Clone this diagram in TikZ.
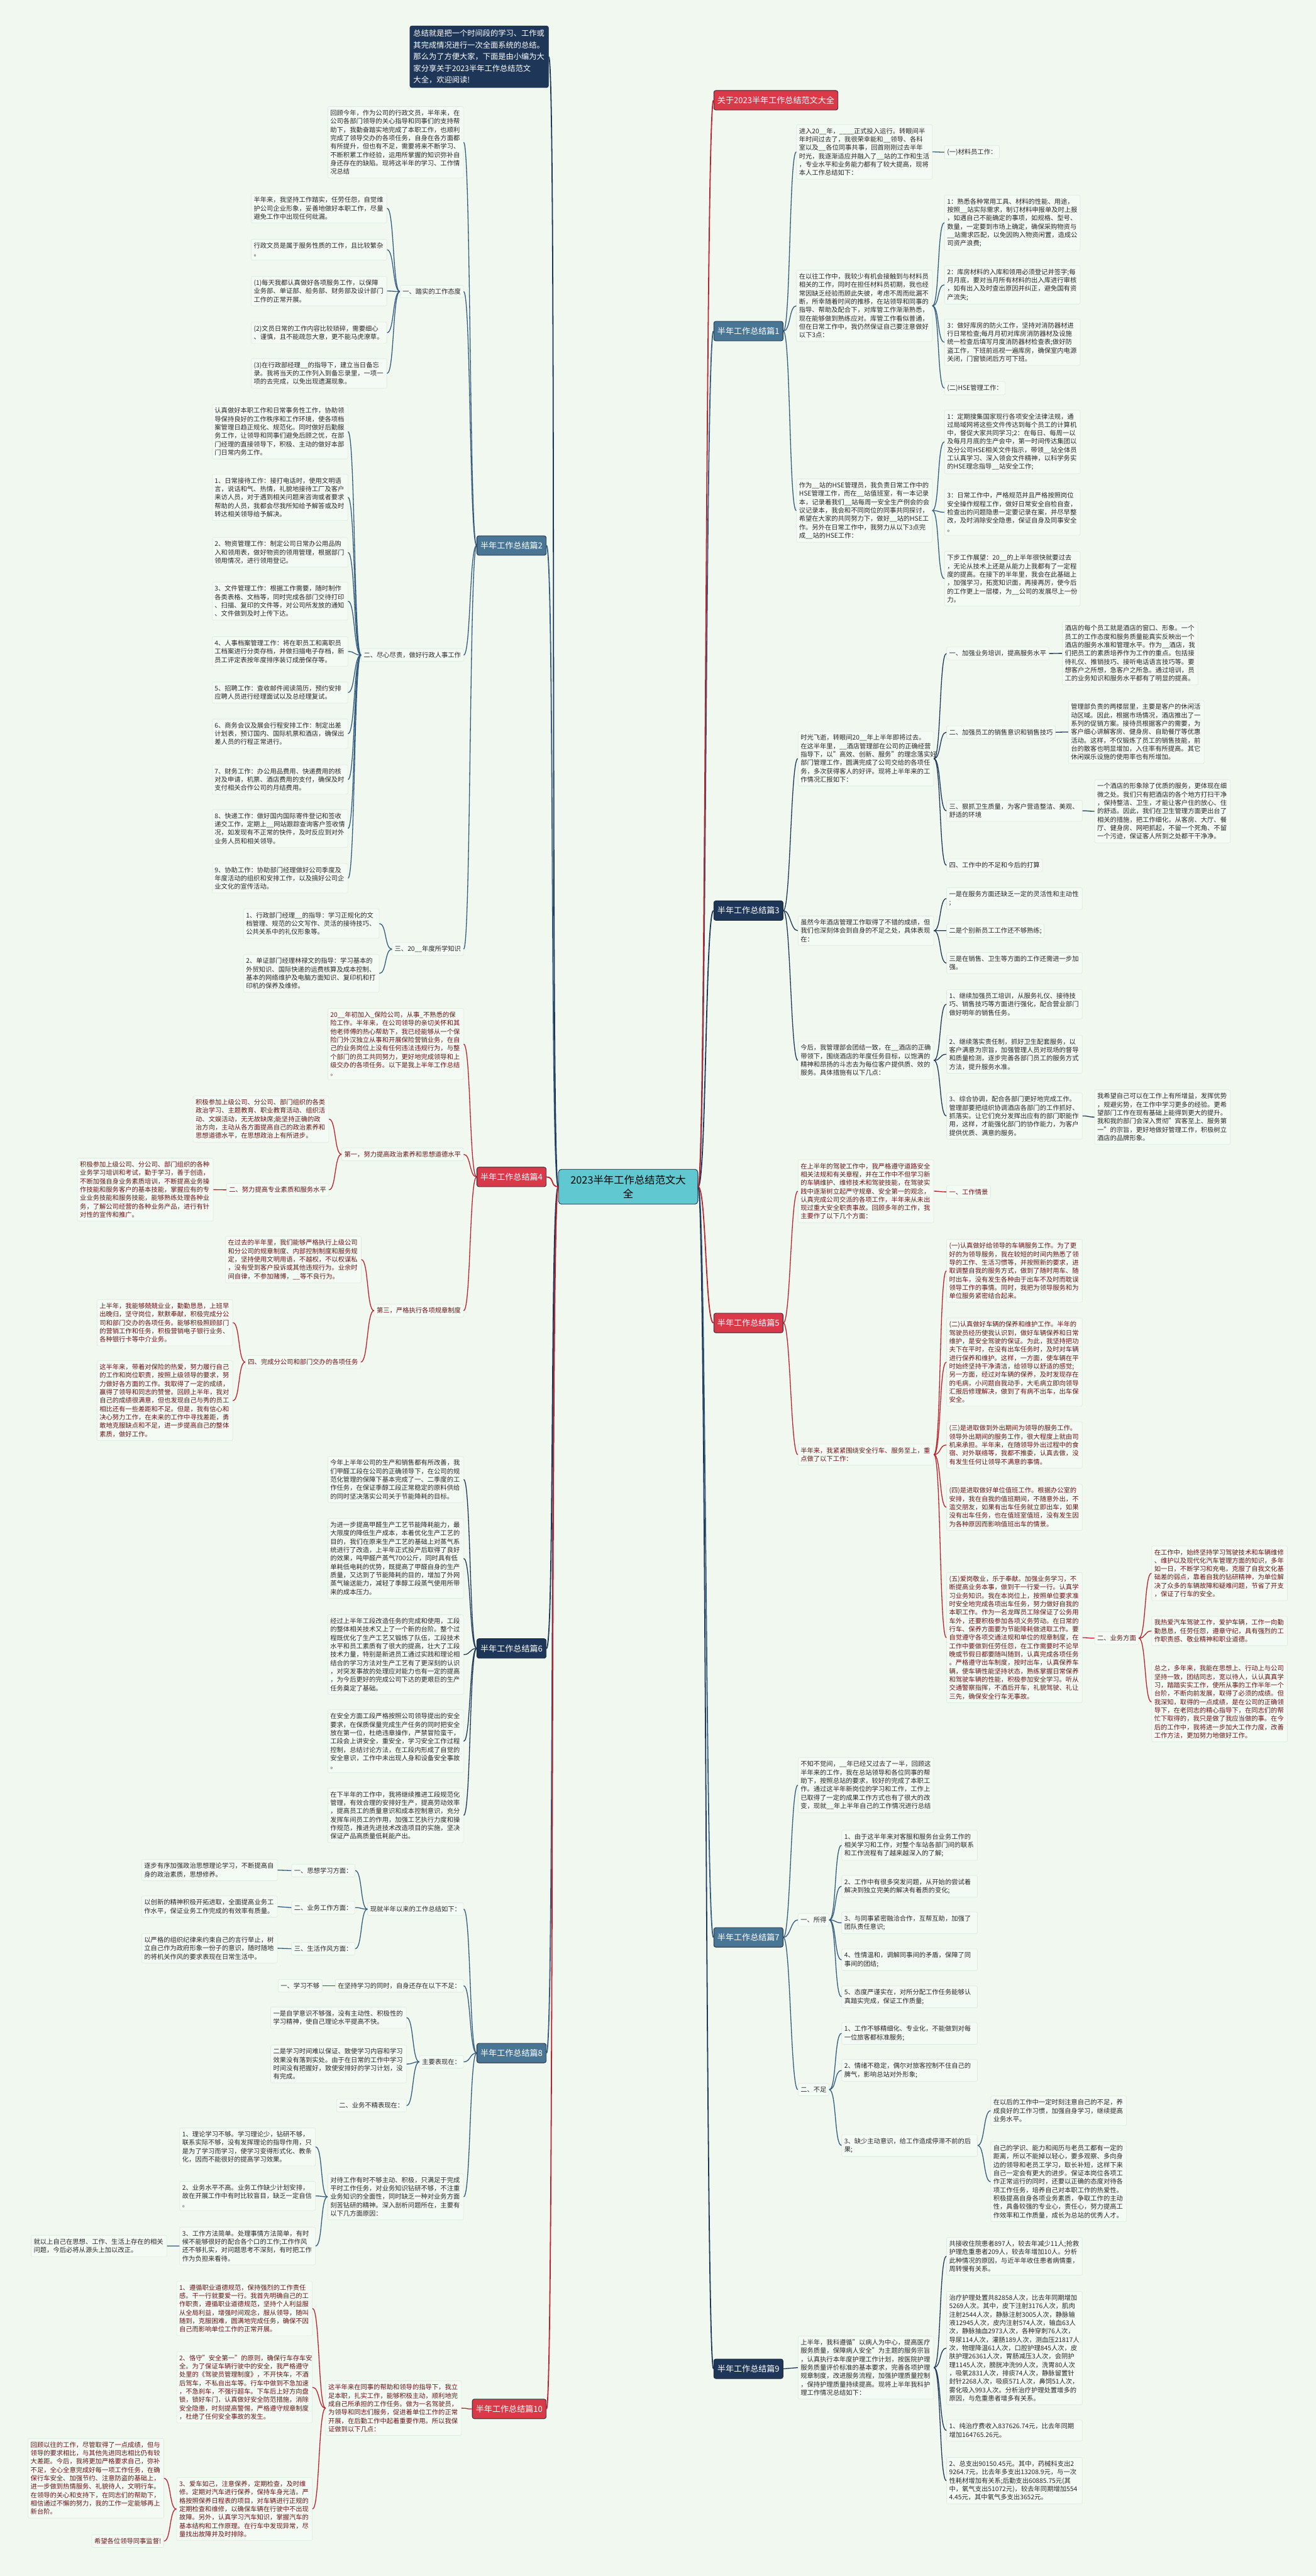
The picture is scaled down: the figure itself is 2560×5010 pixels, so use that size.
\documentclass[tikz,border=0pt]{standalone}
\usepackage{fontspec}
\setmainfont{Noto Sans CJK SC}
\definecolor{bgc}{RGB}{240,248,240}
\definecolor{boxfill}{RGB}{244,250,244}
\definecolor{boxline}{RGB}{222,234,222}
\definecolor{steel}{RGB}{74,118,150}
\definecolor{steelline}{RGB}{52,92,126}
\definecolor{navy}{RGB}{30,55,88}
\definecolor{redf}{RGB}{217,58,74}
\definecolor{redline}{RGB}{190,32,46}
\definecolor{lblline}{RGB}{28,40,58}
\definecolor{txtdk}{RGB}{40,40,40}
\definecolor{txtrd}{RGB}{104,22,22}
\definecolor{cyanf}{RGB}{96,200,208}
\newcommand\txtfont{\fontsize{12.6}{16.3}\selectfont}
\newcommand\lblfont{\fontsize{16}{20}\selectfont}
\newcommand\ctrfont{\fontsize{20}{26}\selectfont}
\newcommand\introfont{\fontsize{15}{22.5}\selectfont}
\tikzset{
  txtbox/.style={draw=boxline,fill=boxfill,rounded corners=3pt,inner xsep=5pt,inner ysep=6.5pt,
    text width=254pt,align=left,font=\txtfont,line width=0.8pt},
  tagbox/.style={draw=boxline,fill=boxfill,rounded corners=3pt,inner xsep=5pt,inner ysep=6.5pt,
    align=left,font=\txtfont,line width=0.8pt},
  dk/.style={text=txtdk},
  rd/.style={text=txtrd},
  lbl/.style={rounded corners=4pt,inner xsep=7pt,minimum height=38pt,font=\lblfont,text=white,
    draw=lblline,line width=1pt},
  lnkS/.style={draw=steelline,line width=1.6pt},
  lnkN/.style={draw=navy,line width=1.6pt},
  lnkR/.style={draw=redline,line width=1.6pt}
}
\begin{document}
\begin{tikzpicture}[x=1pt,y=-1pt]
\fill[bgc] (0,0) rectangle (2560,5010);
\useasboundingbox (0,0) rectangle (2560,5010);

% centre and branch labels
\node[draw=lblline,fill=cyanf,rounded corners=6pt,minimum width=271pt,minimum height=68pt,
  font=\ctrfont,align=center,line width=1pt] (c) at (1222,2308) {2023半年工作总结范文大\\全};
\node[fill=navy,draw=lblline,rounded corners=4pt,inner xsep=7pt,inner ysep=8pt,text=white,
  font=\introfont,text width=256pt,align=left,anchor=north west] (intro) at (797,50)
  {总结就是把一个时间段的学习、工作或\\其完成情况进行一次全面系统的总结。\\那么为了方便大家，下面是由小编为大\\家分享关于2023半年工作总结范文\\大全，欢迎阅读!};
\node[lbl,fill=redf,anchor=west] (r0) at (1388,195) {关于2023半年工作总结范文大全};
\node[lbl,fill=steel,anchor=west] (b1) at (1388,644) {半年工作总结篇1};
\node[lbl,fill=navy,anchor=west] (b3) at (1388,1771) {半年工作总结篇3};
\node[lbl,fill=redf,anchor=west] (b5) at (1388,2573) {半年工作总结篇5};
\node[lbl,fill=steel,anchor=west] (b7) at (1388,3768) {半年工作总结篇7};
\node[lbl,fill=navy,anchor=west] (b9) at (1388,4607) {半年工作总结篇9};
\node[lbl,fill=steel,anchor=east] (b2) at (1063,1061) {半年工作总结篇2};
\node[lbl,fill=redf,anchor=east] (b4) at (1063,2289) {半年工作总结篇4};
\node[lbl,fill=navy,anchor=east] (b6) at (1063,3206) {半年工作总结篇6};
\node[lbl,fill=steel,anchor=east] (b8) at (1063,3993) {半年工作总结篇8};
\node[lbl,fill=redf,anchor=east] (b10) at (1063,4685) {半年工作总结篇10};

% 篇2
\node[txtbox,dk,anchor=north east] (b2a) at (902,207) {回顾今年，作为公司的行政文员，半年来，在\\公司各部门领导的关心指导和同事们的支持帮\\助下，我勤奋踏实地完成了本职工作，也顺利\\完成了领导交办的各项任务，自身在各方面都\\有所提升，但也有不足，需要将来不断学习、\\不断积累工作经验，运用所掌握的知识弥补自\\身还存在的缺陷。现将这半年的学习、工作情\\况总结};
\node[tagbox,dk,anchor=east] (b2b) at (902,567) {一、踏实的工作态度};
\node[txtbox,dk,anchor=north east] (b2b1) at (753,376) {半年来，我坚持工作踏实，任劳任怨，自觉维\\护公司企业形象，妥善地做好本职工作，尽量\\避免工作中出现任何纰漏。};
\node[txtbox,dk,anchor=north east] (b2b2) at (753,465) {行政文员是属于服务性质的工作，且比较繁杂\\。};
\node[txtbox,dk,anchor=north east] (b2b3) at (753,537) {(1)每天我都认真做好各项服务工作，以保障\\业务部、单证部、船务部、财务部及设计部门\\工作的正常开展。};
\node[txtbox,dk,anchor=north east] (b2b4) at (753,626) {(2)文员日常的工作内容比较琐碎，需要细心\\、谨慎，且不能疏忽大意，更不能马虎潦草。};
\node[txtbox,dk,anchor=north east] (b2b5) at (753,697) {(3)在行政部经理\_\_的指导下，建立当日备忘\\录。我将当天的工作列入到备忘录里，一项一\\项的去完成，以免出现遗漏现象。};
\node[tagbox,dk,anchor=east] (b2c) at (902,1274) {二、尽心尽责，做好行政人事工作};
\node[txtbox,dk,anchor=north east] (b2c0) at (677,786) {认真做好本职工作和日常事务性工作，协助领\\导保持良好的工作秩序和工作环境，使各项档\\案管理日趋正规化、规范化。同时做好后勤服\\务工作，让领导和同事们避免后顾之忧，在部\\门经理的直接领导下，积极、主动的做好本部\\门日常内务工作。};
\node[txtbox,dk,anchor=north east] (b2c1) at (677,922) {1、日常接待工作：接打电话时，使用文明语\\言，说话和气、热情，礼貌地接待工厂及客户\\来访人员，对于遇到相关问题来咨询或者要求\\帮助的人员，我都会尽我所知给予解答或及时\\转达相关领导给予解决。};
\node[txtbox,dk,anchor=north east] (b2c2) at (677,1045) {2、物资管理工作：制定公司日常办公用品购\\入和领用表，做好物资的领用管理，根据部门\\领用情况，进行领用登记。};
\node[txtbox,dk,anchor=north east] (b2c3) at (677,1132) {3、文件管理工作：根据工作需要，随时制作\\各类表格、文档等，同时完成各部门交待打印\\、扫描、复印的文件等，对公司所发放的通知\\、文件做到及时上传下达。};
\node[txtbox,dk,anchor=north east] (b2c4) at (677,1238) {4、人事档案管理工作：将在职员工和离职员\\工档案进行分类存档，并做扫描电子存档，新\\员工评定表按年度排序装订成册保存等。};
\node[txtbox,dk,anchor=north east] (b2c5) at (677,1326) {5、招聘工作：查收邮件阅读简历，预约安排\\应聘人员进行经理面试以及总经理复试。};
\node[txtbox,dk,anchor=north east] (b2c6) at (677,1398) {6、商务会议及展会行程安排工作：制定出差\\计划表，预订国内、国际机票和酒店，确保出\\差人员的行程正常进行。};
\node[txtbox,dk,anchor=north east] (b2c7) at (677,1487) {7、财务工作：办公用品费用、快递费用的核\\对及申请，机票、酒店费用的支付，确保及时\\支付相关合作公司的月结费用。};
\node[txtbox,dk,anchor=north east] (b2c8) at (677,1574) {8、快递工作：做好国内国际寄件登记和签收\\递交工作，定期上\_\_网站跟踪查询客户签收情\\况，如发现有不正常的快件，及时反应到对外\\业务人员和相关领导。};
\node[txtbox,dk,anchor=north east] (b2c9) at (677,1679) {9、协助工作：协助部门经理做好公司季度及\\年度活动的组织和安排工作，以及搞好公司企\\业文化的宣传活动。};
\node[tagbox,dk,anchor=east] (b2d) at (902,1846) {三、20\_\_年度所学知识};
\node[txtbox,dk,anchor=north east] (b2d1) at (738,1767) {1、行政部门经理\_\_的指导：学习正规化的文\\档管理、规范的公文写作、灵活的接待技巧、\\公共关系中的礼仪形象等。};
\node[txtbox,dk,anchor=north east] (b2d2) at (738,1856) {2、单证部门经理林禄文的指导：学习基本的\\外贸知识、国际快递的运费核算及成本控制、\\基本的网络维护及电脑方面知识、复印机和打\\印机的保养及维修。};

% 篇4
\node[txtbox,rd,anchor=north east] (b4a) at (902,1961) {20\_\_年初加入\_保险公司，从事\_不熟悉的保\\险工作。半年来，在公司领导的亲切关怀和其\\他老师傅的热心帮助下，我已经能够从一个保\\险门外汉独立从事和开展保险营销业务，在自\\己的业务岗位上没有任何违法违规行为，与整\\个部门的员工共同努力，更好地完成领导和上\\级交办的各项任务。以下是我上半年工作总结\\。};
\node[tagbox,rd,anchor=east] (b4b) at (902,2245) {第一，努力提高政治素养和思想道德水平};
\node[txtbox,rd,anchor=north east] (b4b1) at (640,2131) {积极参加上级公司、分公司、部门组织的各类\\政治学习、主题教育、职业教育活动、组织活\\动、文娱活动，无无故缺席;能坚持正确的政\\治方向，主动从各方面提高自己的政治素养和\\思想道德水平，在思想政治上有所进步。};
\node[tagbox,rd,anchor=east] (b4b2) at (640,2314) {二、努力提高专业素质和服务水平};
\node[txtbox,rd,anchor=north east] (b4b2a) at (415,2252) {积极参加上级公司、分公司、部门组织的各种\\业务学习培训和考试，勤于学习，善于创造，\\不断加强自身业务素质培训，不断提高业务操\\作技能和服务客户的基本技能，掌握应有的专\\业业务技能和服务技能，能够熟练处理各种业\\务，了解公司经营的各种业务产品，进行有针\\对性的宣传和推广。};
\node[tagbox,rd,anchor=east] (b4c) at (902,2549) {第三，严格执行各项规章制度};
\node[txtbox,rd,anchor=north east] (b4c1) at (703,2404) {在过去的半年里，我们能够严格执行上级公司\\和分公司的规章制度、内部控制制度和服务规\\定，坚持使用文明用语，不越权，不以权谋私\\，没有受到客户投诉或其他违规行为。业余时\\间自律，不参加赌博，\_\_等不良行为。};
\node[tagbox,rd,anchor=east] (b4c2) at (702,2649) {四、完成分公司和部门交办的各项任务};
\node[txtbox,rd,anchor=north east] (b4c2a) at (453,2527) {上半年，我能够兢兢业业，勤勤恳恳，上班早\\出晚归，坚守岗位，默默奉献，积极完成分公\\司和部门交办的各项任务。能够积极照顾部门\\的营销工作和任务，积极营销电子银行业务、\\各种银行卡等中介业务。};
\node[txtbox,rd,anchor=north east] (b4c2b) at (453,2646) {这半年来，带着对保险的热爱，努力履行自己\\的工作和岗位职责，按照上级领导的要求，努\\力做好各方面的工作。我取得了一定的成绩，\\赢得了领导和同志的赞誉。回顾上半年，我对\\自己的成绩很满意，但也发现自己与秀的员工\\相比还有一些差距和不足。但是，我有信心和\\决心努力工作，在未来的工作中寻找差距，勇\\敢地克服缺点和不足，进一步提高自己的整体\\素质，做好工作。};

% 篇6
\node[txtbox,dk,anchor=north east] (b6a) at (902,2832) {今年上半年公司的生产和销售都有所改善，我\\们甲醛工段在公司的正确领导下，在公司的规\\范化管理的保障下基本完成了一、二季度的工\\作任务，在保证季醇工段正常稳定的原料供给\\的同时坚决落实公司关于节能降耗的目标。};
\node[txtbox,dk,anchor=north east] (b6b) at (902,2953) {为进一步提高甲醛生产工艺节能降耗能力，最\\大限度的降低生产成本，本着优化生产工艺的\\目的，我们在原来生产工艺的基础上对蒸气系\\统进行了改造，上半年正式投产后取得了良好\\的效果，吨甲醛产蒸气700公斤，同时具有低\\单耗低电耗的优势，既提高了甲醛自身的生产\\质量，又达到了节能降耗的目的，增加了外网\\蒸气输送能力，减轻了季醇工段蒸气使用所带\\来的成本压力。};
\node[txtbox,dk,anchor=north east] (b6c) at (902,3140) {经过上半年工段改造任务的完成和使用，工段\\的整体相关技术又上了一个新的台阶。整个过\\程既优化了生产工艺又锻炼了队伍，工段技术\\水平和员工素质有了很大的提高，壮大了工段\\技术力量，特别是新进员工通过实践和理论相\\结合的学习方法对生产工艺有了更深刻的认识\\，对突发事故的处理应对能力也有一定的提高\\，为今后更好的完成公司下达的更艰巨的生产\\任务奠定了基础。};
\node[txtbox,dk,anchor=north east] (b6d) at (902,3325) {在安全方面工段严格按照公司领导提出的安全\\要求，在保质保量完成生产任务的同时把安全\\放在第一位，杜绝违章操作，严禁冒险蛮干，\\工段会上讲安全，重安全，学习安全工作过程\\控制，总结讨论方法，在工段内形成了自觉的\\安全意识，工作中未出现人身和设备安全事故\\。};
\node[txtbox,dk,anchor=north east] (b6e) at (902,3477) {在下半年的工作中，我将继续推进工段规范化\\管理，有效合理的安排好生产，提高劳动效率\\，提高员工的质量意识和成本控制意识，充分\\发挥车间员工的作用，加强工艺执行力度和操\\作规范，推进先进技术改造项目的实施，坚决\\保证产品高质量低耗能产出。};

% 篇8
\node[tagbox,dk,anchor=east] (b8a) at (902,3713) {现就半年以来的工作总结如下：};
\node[tagbox,dk,anchor=east] (b8a1) at (691,3638) {一、思想学习方面：};
\node[txtbox,dk,anchor=north east] (b8a1a) at (540,3616) {逐步有序加强政治思想理论学习，不断提高自\\身的政治素质，思想修养。};
\node[tagbox,dk,anchor=east] (b8a2) at (691,3710) {二、业务工作方面：};
\node[txtbox,dk,anchor=north east] (b8a2a) at (540,3687) {以创新的精神积极开拓进取，全面提高业务工\\作水平，保证业务工作完成的有效率有质量。};
\node[tagbox,dk,anchor=east] (b8a3) at (691,3790) {三、生活作风方面：};
\node[txtbox,dk,anchor=north east] (b8a3a) at (540,3760) {以严格的组织纪律来约束自己的言行举止，树\\立自己作为政府形象一份子的意识，随时随地\\的将机关作风的要求表现在日常生活中。};
\node[tagbox,dk,anchor=east] (b8b) at (902,3862) {在坚持学习的同时，自身还存在以下不足：};
\node[tagbox,dk,anchor=east] (b8b1) at (627,3862) {一、学习不够};
\node[tagbox,dk,anchor=east] (b8c) at (902,4010) {主要表现在：};
\node[txtbox,dk,anchor=north east] (b8c1) at (791,3903) {一是自学意识不够强，没有主动性、积极性的\\学习精神，使自己理论水平提高不快。};
\node[txtbox,dk,anchor=north east] (b8c2) at (791,3977) {二是学习时间难以保证、致使学习内容和学习\\效果没有落到实处。由于在日常的工作中学习\\时间没有把握好，致使安排好的学习计划，没\\有完成。};
\node[tagbox,dk,anchor=east] (b8c3) at (791,4095) {二、业务不精表现在：};
\node[txtbox,dk,anchor=north east] (b8d) at (902,4227) {对待工作有时不够主动、积极，只满足于完成\\平时工作任务，对业务知识钻研不够，不注重\\业务知识的全面性，同时缺乏一种对业务方面\\刻苦钻研的精神。深入剖析问题所在，主要有\\以下几方面原因：};
\node[txtbox,dk,anchor=north east] (b8d1) at (614,4138) {1、理论学习不够。学习理论少，钻研不够，\\联系实际不够，没有发挥理论的指导作用，只\\是为了学习而学习，使学习变得形式化、教条\\化，因而不能很好的提高学习效果。};
\node[txtbox,dk,anchor=north east] (b8d2) at (614,4242) {2、业务水平不高。业务工作缺少计划安排，\\故在开展工作中有时比较盲目，缺乏一定自信\\。};
\node[txtbox,dk,anchor=north east] (b8d3) at (614,4331) {3、工作方法简单。处理事情方法简单，有时\\候不能够很好的配合各个口的工作;工作作风\\还不够扎实，对问题思考不深刻，有时把工作\\作为负担来看待。};
\node[txtbox,dk,anchor=north east] (b8d3a) at (325,4347) {就以上自己在思想、工作、生活上存在的相关\\问题，今后必将从源头上加以改正。};

% 篇10
\node[txtbox,rd,anchor=north east] (b10a) at (898,4630) {这半年来在同事的帮助和领导的指导下，我立\\足本职，扎实工作，能够积极主动，顺利地完\\成自己所承担的工作任务。做为一名驾驶员，\\为领导和同志们服务，促进着单位工作的正常\\开展，在后勤工作中起着重要作用。所以我保\\证做到以下几点：};
\node[txtbox,rd,anchor=north east] (b10a1) at (608,4436) {1、遵循职业道德规范，保持强烈的工作责任\\感。干一行就要爱一行。我首先明确自己的工\\作职责，遵循职业道德规范，坚持个人利益服\\从全局利益，增强时间观念，服从领导，随叫\\随到，克服困难，圆满地完成任务，确保不因\\自己而影响单位工作的正常开展。};
\node[txtbox,rd,anchor=north east] (b10a2) at (608,4573) {2、恪守"安全第一"的原则，确保行车存车安\\全。为了保证车辆行驶中的安全，我严格遵守\\处里的《驾驶员管理制度》，不开快车，不酒\\后驾车，不私自出车等。行车中做到不急加速\\，不急刹车，不强行超车。下车后上好方向盘\\锁，锁好车门，认真做好安全防范措施，消除\\安全隐患，时刻提高警惕，严格遵守规章制度\\，杜绝了任何安全事故的发生。};
\node[txtbox,rd,anchor=north east] (b10a3) at (608,4818) {3、爱车如己，注意保养，定期检查，及时维\\修。定期对汽车进行保养，保持车身光洁。严\\格按照保养日程表的项目，对车辆进行正规的\\定期检查和维修，以确保车辆在行驶中不出现\\故障。另外，认真学习汽车知识，掌握汽车的\\基本结构和工作原理。在行车中发现异常，尽\\量找出故障并及时排除。};
\node[txtbox,rd,anchor=north east] (b10a3a) at (319,4742) {回顾以往的工作，尽管取得了一点成绩，但与\\领导的要求相比，与其他先进同志相比仍有较\\大差距。今后，我将更加严格要求自己，弥补\\不足，全心全意完成好每一项工作任务，在确\\保行车安全、加强节约、注意防盗的基础上，\\进一步做到热情服务、礼貌待人，文明行车。\\在领导的关心和支持下，在同志们的帮助下，\\相信通过不懈的努力，我的工作一定能够再上\\新台阶。};
\node[tagbox,rd,anchor=east] (b10a3b) at (319,4942) {希望各位领导同事监督!};

% 篇1
\node[txtbox,dk,anchor=north west] (b1a) at (1549,242) {进入20\_\_年，\_\_\_\_正式投入运行。转眼间半\\年时间过去了，我很荣幸能和\_\_领导、各科\\室以及\_\_各位同事共事，回首刚刚过去半年\\时光，我逐渐适应并融入了\_\_站的工作和生活\\，专业水平和业务能力都有了较大提高，现将\\本人工作总结如下：};
\node[tagbox,dk,anchor=west] (b1a1) at (1837,296) {(一)材料员工作：};
\node[txtbox,dk,anchor=north west] (b1b) at (1549,525) {在以往工作中，我较少有机会接触到与材料员\\相关的工作，同时在担任材料员初期，我也经\\常因缺乏经验而顾此失彼，考虑不周而纰漏不\\断，所幸随着时间的推移，在站领导和同事的\\指导、帮助及配合下，对库管工作渐渐熟悉，\\现在能够做到熟练应对。库管工作看似普通，\\但在日常工作中，我仍然保证自己要注意做好\\以下3点：};
\node[txtbox,dk,anchor=north west] (b1b1) at (1837,379) {1：熟悉各种常用工具、材料的性能、用途，\\按照\_\_站实际需求，制订材料申报单及时上报\\，如遇自己不能确定的事项，如规格、型号、\\数量，一定要到市场上确定，确保采购物资与\\\_\_站需求匹配，以免因购入物资闲置，造成公\\司资产浪费;};
\node[txtbox,dk,anchor=north west] (b1b2) at (1837,516) {2：库房材料的入库和领用必须登记并签字;每\\月月底，要对当月所有材料的出入库进行审核\\，如有出入及时查出原因并纠正，避免国有资\\产流失;};
\node[txtbox,dk,anchor=north west] (b1b3) at (1837,620) {3：做好库房的防火工作，坚持对消防器材进\\行日常检查;每月月初对库房消防器材及设施\\统一检查后填写月度消防器材检查表;做好防\\盗工作，下班前巡视一遍库房，确保室内电源\\关闭，门窗锁闭后方可下班。};
\node[tagbox,dk,anchor=west] (b1b4) at (1837,755) {(二)HSE管理工作：};
\node[txtbox,dk,anchor=north west] (b1c) at (1549,931) {作为\_\_站的HSE管理员，我负责日常工作中的\\HSE管理工作，而在\_\_站值班室，有一本记录\\本，记录着我们\_\_站每周一安全生产例会的会\\议记录本，我会和不同岗位的同事共同探讨，\\希望在大家的共同努力下，做好\_\_站的HSE工\\作。另外在日常工作中，我努力从以下3点完\\成\_\_站的HSE工作：};
\node[txtbox,dk,anchor=north west] (b1c1) at (1837,797) {1：定期搜集国家现行各项安全法律法规，通\\过局域网将这些文件传达到每个员工的计算机\\中，督促大家共同学习;2：在每日、每周一以\\及每月月底的生产会中，第一时间传达集团以\\及分公司HSE相关文件指示，带领\_\_站全体员\\工认真学习、深入领会文件精神，以科学务实\\的HSE理念指导\_\_站安全工作;};
\node[txtbox,dk,anchor=north west] (b1c2) at (1837,951) {3：日常工作中，严格规范并且严格按照岗位\\安全操作规程工作，做好日常安全自检自查，\\检查出的问题隐患一定要记录在案，并尽早整\\改，及时消除安全隐患，保证自身及同事安全\\。};
\node[txtbox,dk,anchor=north west] (b1c3) at (1837,1072) {下步工作展望：20\_\_的上半年很快就要过去\\，无论从技术上还是从能力上我都有了一定程\\度的提高。在接下的半年里，我会在此基础上\\，加强学习，拓宽知识面，再接再厉，使今后\\的工作更上一层楼，为\_\_公司的发展尽上一份\\力。};

% 篇3
\node[txtbox,dk,anchor=north west] (b3a) at (1552,1422) {时光飞逝，转眼间20\_\_年上半年即将过去。\\在这半年里，\_\_酒店管理部在公司的正确经营\\指导下，以"高效、创新、服务"的理念落实好\\部门管理工作，圆满完成了公司交给的各项任\\务，多次获得客人的好评。现将上半年来的工\\作情况汇报如下：};
\node[tagbox,dk,anchor=west] (b3a1) at (1841,1271) {一、加强业务培训，提高服务水平};
\node[txtbox,dk,anchor=north west] (b3a1a) at (2066,1209) {酒店的每个员工就是酒店的窗口、形象。一个\\员工的工作态度和服务质量能真实反映出一个\\酒店的服务水准和管理水平。作为\_\_酒店，我\\们把员工的素质培养作为工作的重点。包括接\\待礼仪、推销技巧、接听电话语言技巧等。要\\想客户之所想，急客户之所急。通过培训，员\\工的业务知识和服务水平都有了明显的提高。};
\node[tagbox,dk,anchor=west] (b3a2) at (1841,1424) {二、加强员工的销售意识和销售技巧};
\node[txtbox,dk,anchor=north west] (b3a2a) at (2078,1362) {管理部负责的两楼层里，主要是客户的休闲活\\动区域。因此，根据市场情况，酒店推出了一\\系列的促销方案。接待员根据客户的需要，为\\客户细心讲解客房、健身房、自助餐厅等优惠\\活动。这样，不仅锻炼了员工的销售技能，前\\台的散客也明显增加，入住率有所提高。其它\\休闲娱乐设施的使用率也有所增加。};
\node[txtbox,dk,anchor=north west] (b3a3) at (1841,1556) {三、狠抓卫生质量，为客户营造整洁、美观、\\舒适的环境};
\node[txtbox,dk,anchor=north west] (b3a3a) at (2129,1516) {一个酒店的形象除了优质的服务，更体现在细\\微之处。我们只有把酒店的各个地方打扫干净\\，保持整洁、卫生，才能让客户住的放心、住\\的舒适。因此，我们在卫生管理方面更出台了\\相关的措施，把工作细化，从客房、大厅、餐\\厅、健身房、网吧抓起，不留一个死角、不留\\一个污迹，保证客人所到之处都干干净净。};
\node[tagbox,dk,anchor=west] (b3a4) at (1841,1683) {四、工作中的不足和今后的打算};
\node[txtbox,dk,anchor=north west] (b3b) at (1552,1781) {虽然今年酒店管理工作取得了不错的成绩，但\\我们也深刻体会到自身的不足之处，具体表现\\在：};
\node[txtbox,dk,anchor=north west] (b3b1) at (1841,1726) {一是在服务方面还缺乏一定的灵活性和主动性\\;};
\node[tagbox,dk,anchor=west] (b3b2) at (1841,1810) {二是个别新员工工作还不够熟练;};
\node[txtbox,dk,anchor=north west] (b3b3) at (1841,1852) {三是在销售、卫生等方面的工作还需进一步加\\强。};
\node[txtbox,dk,anchor=north west] (b3c) at (1552,2025) {今后，我管理部会团结一致，在\_\_酒店的正确\\带领下，围绕酒店的年度任务目标，以饱满的\\精神和昂扬的斗志去为每位客户提供质、效的\\服务。具体措施有以下几点：};
\node[txtbox,dk,anchor=north west] (b3c1) at (1841,1924) {1、继续加强员工培训，从服务礼仪、接待技\\巧、销售技巧等方面进行强化，配合营业部门\\做好明年的销售任务。};
\node[txtbox,dk,anchor=north west] (b3c2) at (1841,2013) {2、继续落实责任制，抓好卫生配套服务，以\\客户满意为宗旨，加强管理人员对现场的督导\\和质量检测，逐步完善各部门员工的服务方式\\方法，提升服务水准。};
\node[txtbox,dk,anchor=north west] (b3c3) at (1841,2125) {3、综合协调，配合各部门更好地完成工作。\\管理部要把组织协调酒店各部门的工作抓好、\\抓落实。让它们充分发挥出应有的部门职能作\\用，这样，才能强化部门的协作能力，为客户\\提供优质、满意的服务。};
\node[txtbox,dk,anchor=north west] (b3c3a) at (2129,2119) {我希望自己可以在工作上有所增益，发挥优势\\，规避劣势，在工作中学习更多的经验。更希\\望部门工作在现有基础上能得到更大的提升。\\我和我的部门会深入贯彻"宾客至上、服务第\\一"的宗旨，更好地做好管理工作，积极树立\\酒店的品牌形象。};

% 篇5
\node[txtbox,rd,anchor=north west] (b5a) at (1552,2255) {在上半年的驾驶工作中，我严格遵守道路安全\\相关法规和有关章程，并在工作中不但学习新\\的车辆维护、维修技术和驾驶技能，在驾驶实\\践中逐渐树立起严守规章、安全第一的观念，\\认真完成公司交派的各项工作，半年来从未出\\现过重大安全职责事故。回顾多年的工作，我\\主要作了以下几个方面：};
\node[tagbox,rd,anchor=west] (b5a1) at (1841,2318) {一、工作情景};
\node[txtbox,rd,anchor=north west] (b5b) at (1552,2808) {半年来，我紧紧围绕安全行车、服务至上，重\\点做了以下工作：};
\node[txtbox,rd,anchor=north west] (b5b1) at (1841,2410) {(一)认真做好给领导的车辆服务工作。为了更\\好的为领导服务，我在较短的时间内熟悉了领\\导的工作、生活习惯等，并按照新的要求，进\\取调整自我的服务方式，做到了随时用车、随\\时出车，没有发生各种由于出车不及时而耽误\\领导工作的事情。同时，我把为领导服务和为\\单位服务紧密结合起来。};
\node[txtbox,rd,anchor=north west] (b5b2) at (1841,2563) {(二)认真做好车辆的保养和维护工作。半年的\\驾驶员经历使我认识到，做好车辆保养和日常\\维护，是安全驾驶的保证。为此，我坚持把功\\夫下在平时，在没有出车任务时，及时对车辆\\进行保养和维护。这样，一方面，使车辆在平\\时始终坚持干净清洁，给领导以舒适的感觉;\\另一方面，经过对车辆的保养，及时发现存在\\的毛病，小问题自我动手，大毛病立即向领导\\汇报后修理解决，做到了有病不出车，出车保\\安全。};
\node[txtbox,rd,anchor=north west] (b5b3) at (1841,2765) {(三)是进取做到外出期间为领导的服务工作。\\领导外出期间的服务工作，很大程度上就由司\\机来承担。半年来，在随领导外出过程中的食\\宿、对外联络等，我都不推委，认真去做，没\\有发生任何让领导不满意的事情。};
\node[txtbox,rd,anchor=north west] (b5b4) at (1841,2886) {(四)是进取做好单位值班工作。根据办公室的\\安排，我在自我的值班期间，不随意外出，不\\滥交朋友，如果有出车任务就立即出车，如果\\没有出车任务，也在值班室值班，没有发生因\\为各种原因而影响值班出车的情景。};
\node[txtbox,rd,anchor=north west] (b5b5) at (1841,3058) {(五)爱岗敬业，乐于奉献。加强业务学习，不\\断提高业务本事，做到干一行爱一行。认真学\\习业务知识。我在本岗位上，按照单位要求准\\时安全地完成各项出车任务，努力做好自我的\\本职工作。作为一名龙晖员工除保证了公务用\\车外，还要积极参加各项义务劳动。在日常的\\行车、保养方面要为节能降耗做进取工作。要\\自觉遵守各项交通法规和单位的规章制度，在\\工作中要做到任劳任怨，在工作需要时不论早\\晚或节假日都要随叫随到，认真完成各项任务\\。严格遵守出车制度，按时出车，认真保养车\\辆，使车辆性能坚持状态，熟练掌握日常保养\\和驾驶车辆的性能，积极参加安全学习。听从\\交通警察指挥，不酒后开车，礼貌驾驶、礼让\\三先，确保安全行车无事故。};
\node[tagbox,rd,anchor=west] (b5b5a) at (2129,3186) {二、业务方面};
\node[txtbox,rd,anchor=north west] (b5b5a1) at (2240,3006) {在工作中，始终坚持学习驾驶技术和车辆维修\\、维护以及现代化汽车管理方面的知识，多年\\如一日，不断学习和充电，克服了自我文化基\\础差的弱点，靠着自我的钻研精神，为单位解\\决了众多的车辆故障和疑难问题，节省了开支\\，保证了行车的安全。};
\node[txtbox,rd,anchor=north west] (b5b5a2) at (2240,3143) {我热爱汽车驾驶工作，爱护车辆，工作一向勤\\勤恳恳，任劳任怨，遵章守纪，具有强烈的工\\作职责感、敬业精神和职业道德。};
\node[txtbox,rd,anchor=north west] (b5b5a3) at (2240,3232) {总之，多年来，我能在思想上、行动上与公司\\坚持一致，团结同志，宽以待人，认认真真学\\习，踏踏实实工作，使所从事的工作半年一个\\台阶，不断向前发展，取得了必须的成绩。但\\我深知，取得的一点成绩，是在公司的正确领\\导下，在老同志的精心指导下，在同志们的帮\\忙下取得的，我只是做了我应当做的事。在今\\后的工作中，我将进一步加大工作力度，改善\\工作方法，更加努力地做好工作。};

% 篇7
\node[txtbox,dk,anchor=north west] (b7a) at (1552,3418) {不知不觉间，\_\_年已经又过去了一半，回顾这\\半年来的工作，我在总站领导和各位同事的帮\\助下，按照总站的要求，较好的完成了本职工\\作。通过这半年新岗位的学习和工作，工作上\\已取得了一定的成果工作方式也有了很大的改\\变，现就\_\_年上半年自己的工作情况进行总结};
\node[tagbox,dk,anchor=west] (b7b) at (1552,3734) {一、所得};
\node[txtbox,dk,anchor=north west] (b7b1) at (1637,3559) {1、由于这半年来对客服和服务台业务工作的\\相关学习和工作，对整个车站各部门间的联系\\和工作流程有了越来越深入的了解;};
\node[txtbox,dk,anchor=north west] (b7b2) at (1637,3647) {2、工作中有很多突发问题，从开始的尝试着\\解决到独立完美的解决有着质的变化;};
\node[txtbox,dk,anchor=north west] (b7b3) at (1637,3718) {3、与同事紧密融洽合作，互帮互助，加强了\\团队责任意识;};
\node[txtbox,dk,anchor=north west] (b7b4) at (1637,3790) {4、性情温和，调解同事间的矛盾，保障了同\\事间的团结;};
\node[txtbox,dk,anchor=north west] (b7b5) at (1637,3862) {5、态度严谨实在，对所分配工作任务能够认\\真踏实完成，保证工作质量;};
\node[tagbox,dk,anchor=west] (b7c) at (1552,4064) {二、不足};
\node[txtbox,dk,anchor=north west] (b7c1) at (1637,3933) {1、工作不够精细化、专业化，不能做到对每\\一位旅客都标准服务;};
\node[txtbox,dk,anchor=north west] (b7c2) at (1637,4005) {2、情绪不稳定，偶尔对旅客控制不住自己的\\脾气，影响总站对外形象;};
\node[txtbox,dk,anchor=north west] (b7c3) at (1637,4151) {3、缺少主动意识，给工作造成停滞不前的后\\果;};
\node[txtbox,dk,anchor=north west] (b7c3a) at (1927,4076) {在以后的工作中一定时刻注意自己的不足，养\\成良好的工作习惯，加强自身学习，继续提高\\业务水平。};
\node[txtbox,dk,anchor=north west] (b7c3b) at (1927,4165) {自己的学识、能力和阅历与老员工都有一定的\\距离，所以不能掉以轻心，要多观察、多向身\\边的领导和老员工学习，取长补短，这样下来\\自己一定会有更大的进步。保证本岗位各项工\\作正常运行的同时，还要以正确的态度对待各\\项工作任务，培养自己对本职工作的热爱性。\\积极提高自身各项业务素质，争取工作的主动\\性，具备较强的专业心，责任心，努力提高工\\作效率和工作质量，成长为总站的优秀人才。};

% 篇9
\node[txtbox,dk,anchor=north west] (b9a) at (1552,4543) {上半年，我科遵循"以病人为中心，提高医疗\\服务质量，保障病人安全"为主题的服务宗旨\\，认真执行本年度护理工作计划，按医院护理\\服务质量评价标准的基本要求，完善各项护理\\规章制度，改进服务流程，加强护理质量控制\\，保持护理质量持续提高。现将上半年我科护\\理工作情况总结如下：};
\node[txtbox,dk,anchor=north west] (b9a1) at (1841,4351) {共接收住院患者897人，较去年减少11人;抢救\\护理危重患者209人，较去年增加10人。分析\\此种情况的原因，与近半年收住患者病情重，\\周转慢有关系。};
\node[txtbox,dk,anchor=north west] (b9a2) at (1841,4456) {治疗护理处置共82858人次，比去年同期增加\\5269人次。其中，皮下注射3176人次，肌肉\\注射2544人次，静脉注射3005人次，静脉输\\液12945人次，皮内注射574人次，输血63人\\次，静脉抽血2973人次，各种穿刺76人次，\\导尿114人次，灌肠189人次，测血压21817人\\次，物理降温61人次，口腔护理845人次，皮\\肤护理26361人次，胃肠减压3人次，会阴护\\理1145人次，膀胱冲洗99人次，洗胃80人次\\，吸氧2831人次，排痰74人次，静脉留置针\\封针2268人次，吸痰571人次，鼻饲51人次，\\雾化吸入993人次。分析治疗护理处置增多的\\原因，与危重患者增多有关系。};
\node[txtbox,dk,anchor=north west] (b9a3) at (1841,4706) {1、纯治疗费收入837626.74元，比去年同期\\增加164765.26元。};
\node[txtbox,dk,anchor=north west] (b9a4) at (1841,4779) {2、总支出90150.45元。其中，药械科支出2\\9264.7元，比去年多支出13208.9元，与一次\\性耗材增加有关系;后勤支出60885.75元(其\\中，氧气支出51072元)，较去年同期增加554\\4.45元，其中氧气多支出3652元。};

% connectors, right side
\begin{scope}[on background layer/.try]
\foreach \p/\q in {c/b1,c/b7} \draw[lnkS,line width=2.2pt] (\p.east) .. controls +(16,0) and +(-16,0) .. (\q.west);
\foreach \p/\q in {c/b3,c/b9} \draw[lnkN,line width=2.2pt] (\p.east) .. controls +(16,0) and +(-16,0) .. (\q.west);
\foreach \p/\q in {c/r0,c/b5} \draw[lnkR,line width=2.2pt] (\p.east) .. controls +(16,0) and +(-16,0) .. (\q.west);
\foreach \p/\q in {b1/b1a,b1a/b1a1,b1/b1b,b1b/b1b1,b1b/b1b2,b1b/b1b3,b1b/b1b4,b1/b1c,b1c/b1c1,b1c/b1c2,b1c/b1c3,
  b7/b7a,b7/b7b,b7b/b7b1,b7b/b7b2,b7b/b7b3,b7b/b7b4,b7b/b7b5,b7/b7c,b7c/b7c1,b7c/b7c2,b7c/b7c3,b7c3/b7c3a,b7c3/b7c3b}
  \draw[lnkS] (\p.east) .. controls +(14,0) and +(-14,0) .. (\q.west);
\foreach \p/\q in {b3/b3a,b3a/b3a1,b3a1/b3a1a,b3a/b3a2,b3a2/b3a2a,b3a/b3a3,b3a3/b3a3a,b3a/b3a4,b3/b3b,b3b/b3b1,b3b/b3b2,b3b/b3b3,
  b3/b3c,b3c/b3c1,b3c/b3c2,b3c/b3c3,b3c3/b3c3a,b9/b9a,b9a/b9a1,b9a/b9a2,b9a/b9a3,b9a/b9a4}
  \draw[lnkN] (\p.east) .. controls +(14,0) and +(-14,0) .. (\q.west);
\foreach \p/\q in {b5/b5a,b5a/b5a1,b5/b5b,b5b/b5b1,b5b/b5b2,b5b/b5b3,b5b/b5b4,b5b/b5b5,b5b5/b5b5a,
  b5b5a/b5b5a1,b5b5a/b5b5a2,b5b5a/b5b5a3}
  \draw[lnkR] (\p.east) .. controls +(14,0) and +(-14,0) .. (\q.west);
% connectors, left side
\foreach \p/\q in {c/b2,c/b8} \draw[lnkS,line width=2.2pt] (\p.west) .. controls +(-16,0) and +(16,0) .. (\q.east);
\foreach \p/\q in {c/intro,c/b6} \draw[lnkN,line width=2.2pt] (\p.west) .. controls +(-16,0) and +(16,0) .. (\q.east);
\foreach \p/\q in {c/b4,c/b10} \draw[lnkR,line width=2.2pt] (\p.west) .. controls +(-16,0) and +(16,0) .. (\q.east);
\foreach \p/\q in {b2/b2a,b2/b2b,b2b/b2b1,b2b/b2b2,b2b/b2b3,b2b/b2b4,b2b/b2b5,b2/b2c,b2c/b2c0,b2c/b2c1,b2c/b2c2,b2c/b2c3,
  b2c/b2c4,b2c/b2c5,b2c/b2c6,b2c/b2c7,b2c/b2c8,b2c/b2c9,b2/b2d,b2d/b2d1,b2d/b2d2,
  b8/b8a,b8a/b8a1,b8a1/b8a1a,b8a/b8a2,b8a2/b8a2a,b8a/b8a3,b8a3/b8a3a,b8/b8b,b8b/b8b1,b8/b8c,b8c/b8c1,b8c/b8c2,b8c/b8c3,
  b8/b8d,b8d/b8d1,b8d/b8d2,b8d/b8d3,b8d3/b8d3a}
  \draw[lnkS] (\p.west) .. controls +(-14,0) and +(14,0) .. (\q.east);
\foreach \p/\q in {b6/b6a,b6/b6b,b6/b6c,b6/b6d,b6/b6e}
  \draw[lnkN] (\p.west) .. controls +(-14,0) and +(14,0) .. (\q.east);
\foreach \p/\q in {b4/b4a,b4/b4b,b4b/b4b1,b4b/b4b2,b4b2/b4b2a,b4/b4c,b4c/b4c1,b4c/b4c2,b4c2/b4c2a,b4c2/b4c2b,
  b10/b10a,b10a/b10a1,b10a/b10a2,b10a/b10a3,b10a3/b10a3a,b10a3/b10a3b}
  \draw[lnkR] (\p.west) .. controls +(-14,0) and +(14,0) .. (\q.east);
\end{scope}
\end{tikzpicture}
\end{document}
